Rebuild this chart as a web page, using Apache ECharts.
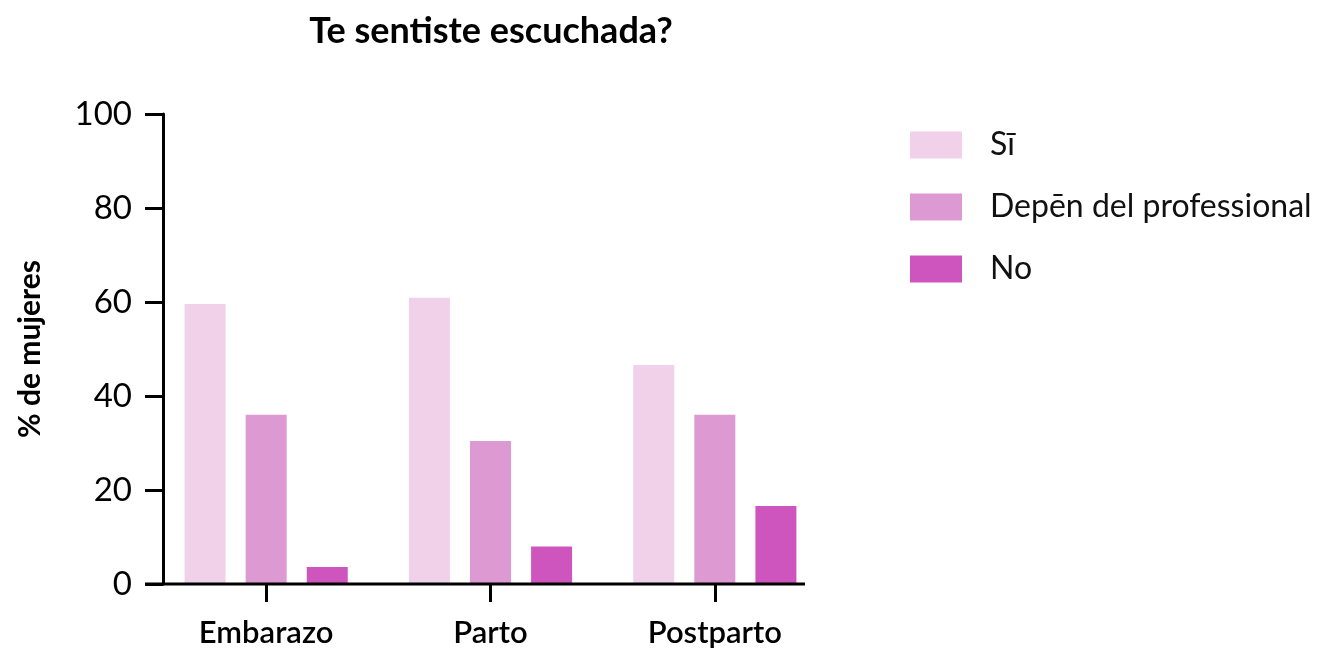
<!DOCTYPE html>
<html>
<head>
    <meta charset="utf-8">
    <script src="https://cdn.jsdelivr.net/npm/echarts@6/dist/echarts.min.js"></script>
    <style>
        html, body, #chart {
            width: 100%;
            height: 100%;
            margin: 0px;
            background: #fff;
        }
    </style>
</head>
<body>
    <div id="chart"></div>
    <script>
        var categories = ['Embarazo', 'Parto', 'Postparto'];
        var seriesNames = ['Sī', 'Depēn del professional', 'No'];
        var si = [59.6, 60.9, 46.6];
        var depen = [36.0, 30.4, 36.0];
        var no = [3.6, 8.0, 16.6];
        var yTicks = [0, 20, 40, 60, 80, 100];
        var colors = ['#F1D0EA', '#DD99D2', '#CF55BE'];

        var font = 'Lato, "Noto Sans", sans-serif';
        var myChart = echarts.init(document.getElementById('chart'));

        var values = [si, depen, no];
        var series = seriesNames.map(function (name, i) {
            return {
                name: name,
                type: 'bar',
                data: values[i],
                barWidth: 41,
                barGap: '49%',
                itemStyle: { color: colors[i] }
            };
        });

        var option = {
            animation: false,
            title: {
                text: 'Te sentiste escuchada?',
                left: 486,
                top: 8,
                textAlign: 'center',
                textStyle: {
                    fontFamily: font,
                    fontSize: 36,
                    fontWeight: 'bold',
                    color: '#000'
                }
            },
            legend: {
                orient: 'vertical',
                left: 905,
                top: 124,
                itemWidth: 52,
                itemHeight: 27,
                itemGap: 30,
                icon: 'rect',
                textStyle: {
                    fontFamily: font,
                    fontSize: 32,
                    color: '#111',
                    padding: [0, 0, 0, 23]
                },
                data: seriesNames
            },
            grid: {
                left: 154,
                top: 114,
                width: 673,
                height: 470,
                containLabel: false
            },
            xAxis: {
                type: 'category',
                data: categories,
                axisLine: { show: false },
                axisTick: {
                    show: true,
                    alignWithLabel: true,
                    length: 18,
                    lineStyle: { color: '#000', width: 3 }
                },
                axisLabel: {
                    interval: 0,
                    margin: 33,
                    fontFamily: font,
                    fontSize: 31,
                    fontWeight: 600,
                    color: '#000'
                }
            },
            yAxis: {
                type: 'value',
                min: yTicks[0],
                max: yTicks[yTicks.length - 1],
                interval: 20,
                offset: -9,
                name: '% de mujeres',
                nameLocation: 'middle',
                nameGap: 118,
                nameTextStyle: {
                    fontFamily: font,
                    fontSize: 30,
                    fontWeight: 'bold',
                    color: '#000'
                },
                splitLine: { show: false },
                axisLine: {
                    show: true,
                    lineStyle: { color: '#000', width: 3 }
                },
                axisTick: {
                    show: true,
                    length: 18,
                    lineStyle: { color: '#000', width: 3 }
                },
                axisLabel: {
                    margin: 31,
                    fontFamily: font,
                    fontSize: 33,
                    color: '#000'
                }
            },
            graphic: [{
                type: 'line',
                shape: { x1: 145, y1: 584, x2: 805, y2: 584 },
                style: { stroke: '#000', lineWidth: 3 },
                z: 10
            }],
            series: series
        };
        myChart.setOption(option);
    </script>
</body>
</html>
